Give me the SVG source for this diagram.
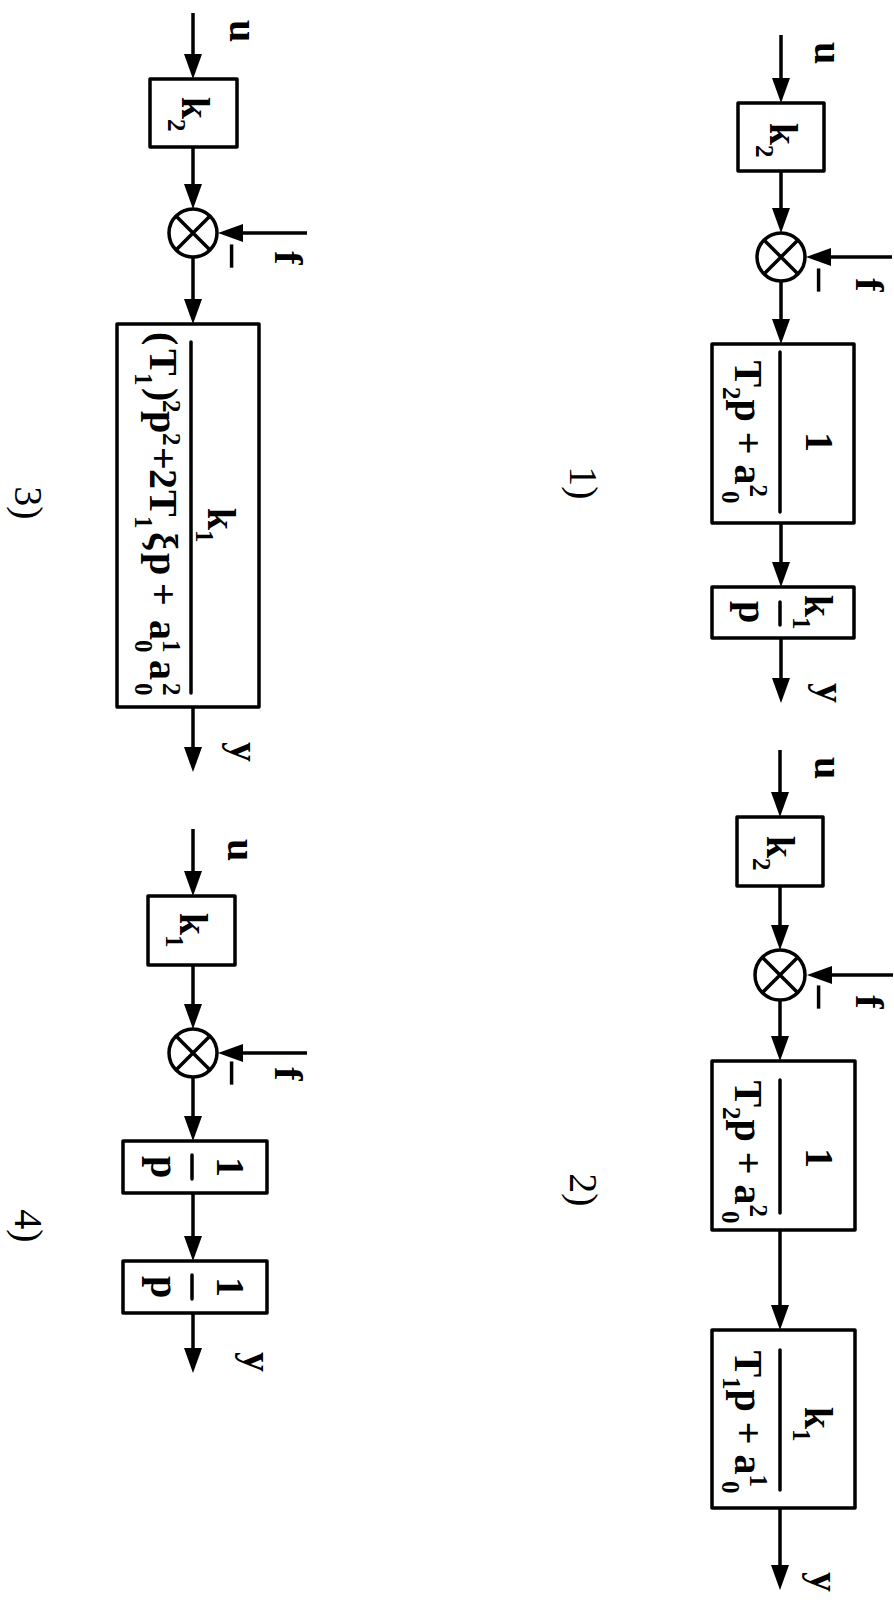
<svg xmlns="http://www.w3.org/2000/svg" width="894" height="1600" viewBox="0 0 894 1600">
<style>
.ln{stroke:#000;stroke-width:3.5;fill:none;marker-end:url(#ah)}
.bx{fill:#fff;stroke:#000;stroke-width:3.5;stroke-linejoin:round}
.sum{fill:#fff;stroke:#000;stroke-width:3.5}
.x{stroke:#000;stroke-width:3.5}
.fr{stroke:#000;stroke-width:3.5;stroke-linecap:round}
.t{font-family:"Liberation Serif","Times New Roman",serif;font-weight:bold;font-size:40px;fill:#000}
.s{font-size:25px}
.m{font-size:50px}
.lb{font-family:"Liberation Serif","Times New Roman",serif;font-size:40px;fill:#000}
</style>
<defs>
<marker id="ah" markerUnits="userSpaceOnUse" markerWidth="28" markerHeight="20" refX="15" refY="9" orient="auto"><path d="M0,0 L25,9 L0,18 z" fill="#000"/></marker>
</defs>
<rect width="894" height="1600" fill="#fff"/>
<g id="connectors">
<path class="ln" d="M781,35 V93"/>
<path class="ln" d="M781,171 V223"/>
<path class="ln" d="M892,257 H816"/>
<path class="ln" d="M781,281 V334"/>
<path class="ln" d="M781,523 V577"/>
<path class="ln" d="M781,638 V693"/>
<path class="ln" d="M780,750 V807"/>
<path class="ln" d="M780,886 V940"/>
<path class="ln" d="M893,975 H817"/>
<path class="ln" d="M780,1000 V1051"/>
<path class="ln" d="M780,1230 V1320"/>
<path class="ln" d="M780,1508 V1580"/>
<path class="ln" d="M193,13 V69"/>
<path class="ln" d="M193,147 V199"/>
<path class="ln" d="M307,233 H228"/>
<path class="ln" d="M193,257 V314"/>
<path class="ln" d="M193,707 V762"/>
<path class="ln" d="M193,829 V886"/>
<path class="ln" d="M193,965 V1019"/>
<path class="ln" d="M307,1053 H228"/>
<path class="ln" d="M193,1077 V1131"/>
<path class="ln" d="M193,1193 V1251"/>
<path class="ln" d="M193,1313 V1363"/>
</g>
<g id="d1-labels">
<text class="t" transform="translate(815,53) rotate(90)" text-anchor="middle">u</text>
<text class="t" transform="translate(856,285) rotate(90)" text-anchor="middle">f</text>
<text class="t m" transform="translate(802,280) rotate(90)" text-anchor="middle">−</text>
<text class="t" transform="translate(817,693) rotate(90)" text-anchor="middle">y</text>
<text class="lb" transform="translate(570,483) rotate(90)" text-anchor="middle">1)</text>
</g>
<g id="d1-k2">
<rect class="bx" x="738" y="103" width="86" height="68"/>
<text class="t" transform="translate(770,140) rotate(90)" text-anchor="middle">k<tspan class="s" dy="14">2</tspan></text>
</g>
<g id="d1-sum">
<circle class="sum" cx="781" cy="257" r="24"/>
<path class="x" d="M764,240 L798,274 M798,240 L764,274"/>
</g>
<g id="d1-w2">
<rect class="bx" x="712" y="344" width="142" height="179"/>
<line class="fr" x1="780" y1="352" x2="780" y2="512"/>
<text class="t" transform="translate(806,442) rotate(90)" text-anchor="middle">1</text>
<text class="t" transform="translate(735,432) rotate(90)" text-anchor="middle">T<tspan class="s" dy="12">2</tspan><tspan dy="-12">p + a</tspan><tspan class="s" dy="-15">2</tspan><tspan class="s" dx="-6" dy="28">0</tspan></text>
</g>
<g id="d1-w1">
<rect class="bx" x="712" y="587" width="142" height="51"/>
<line class="fr" x1="780" y1="602" x2="780" y2="625"/>
<text class="t" transform="translate(805,612) rotate(90)" text-anchor="middle">k<tspan class="s" dy="12">1</tspan></text>
<text class="t" transform="translate(739,612) rotate(90)" text-anchor="middle">p</text>
</g>
<g id="d2-labels">
<text class="t" transform="translate(815,768) rotate(90)" text-anchor="middle">u</text>
<text class="t" transform="translate(856,1002) rotate(90)" text-anchor="middle">f</text>
<text class="t m" transform="translate(802,997) rotate(90)" text-anchor="middle">−</text>
<text class="t" transform="translate(811,1582) rotate(90)" text-anchor="middle">y</text>
<text class="lb" transform="translate(570,1190) rotate(90)" text-anchor="middle">2)</text>
</g>
<g id="d2-k2">
<rect class="bx" x="737" y="817" width="86" height="69"/>
<text class="t" transform="translate(767,853) rotate(90)" text-anchor="middle">k<tspan class="s" dy="14">2</tspan></text>
</g>
<g id="d2-sum">
<circle class="sum" cx="780" cy="975" r="25"/>
<path class="x" d="M762,957 L798,993 M798,957 L762,993"/>
</g>
<g id="d2-w2">
<rect class="bx" x="712" y="1061" width="143" height="169"/>
<line class="fr" x1="780" y1="1080" x2="780" y2="1213"/>
<text class="t" transform="translate(806,1158) rotate(90)" text-anchor="middle">1</text>
<text class="t" transform="translate(735,1152) rotate(90)" text-anchor="middle">T<tspan class="s" dy="12">2</tspan><tspan dy="-12">p + a</tspan><tspan class="s" dy="-15">2</tspan><tspan class="s" dx="-6" dy="28">0</tspan></text>
</g>
<g id="d2-w1">
<rect class="bx" x="712" y="1330" width="143" height="178"/>
<line class="fr" x1="780" y1="1350" x2="780" y2="1490"/>
<text class="t" transform="translate(805,1424) rotate(90)" text-anchor="middle">k<tspan class="s" dy="12">1</tspan></text>
<text class="t" transform="translate(735,1422) rotate(90)" text-anchor="middle">T<tspan class="s" dy="12">1</tspan><tspan dy="-12">p + a</tspan><tspan class="s" dy="-15">1</tspan><tspan class="s" dx="-6" dy="28">0</tspan></text>
</g>
<g id="d3-labels">
<text class="t" transform="translate(230,31) rotate(90)" text-anchor="middle">u</text>
<text class="t" transform="translate(275,258) rotate(90)" text-anchor="middle">f</text>
<text class="t m" transform="translate(215,256) rotate(90)" text-anchor="middle">−</text>
<text class="t" transform="translate(231,752) rotate(90)" text-anchor="middle">y</text>
<text class="lb" transform="translate(15,503) rotate(90)" text-anchor="middle">3)</text>
</g>
<g id="d3-k2">
<rect class="bx" x="150" y="79" width="87" height="68"/>
<text class="t" transform="translate(182,114) rotate(90)" text-anchor="middle">k<tspan class="s" dy="14">2</tspan></text>
</g>
<g id="d3-sum">
<circle class="sum" cx="193" cy="233" r="24"/>
<path class="x" d="M176,216 L210,250 M210,216 L176,250"/>
</g>
<g id="d3-w">
<rect class="bx" x="117" y="324" width="142" height="383"/>
<line class="fr" x1="191" y1="342" x2="191" y2="693"/>
<text class="t" transform="translate(208,525) rotate(90)" text-anchor="middle">k<tspan class="s" dy="12">1</tspan></text>
<text class="t" transform="translate(150,0) rotate(90)"><tspan x="332" y="0">(</tspan><tspan x="349" y="0">T</tspan><tspan class="s" x="373" y="15">1</tspan><tspan x="388" y="0">)</tspan><tspan class="s" x="400" y="-13">2</tspan><tspan x="411" y="0">p</tspan><tspan class="s" x="433" y="-13">2</tspan><tspan x="447" y="0">+</tspan><tspan x="469" y="0">2</tspan><tspan x="490" y="0">T</tspan><tspan class="s" x="516" y="15">1</tspan><tspan x="532" y="0">ξ</tspan><tspan x="553" y="0">p</tspan><tspan x="583" y="0">+</tspan><tspan x="620" y="0">a</tspan><tspan class="s" x="640" y="-13">1</tspan><tspan class="s" x="640" y="15">0</tspan><tspan x="660" y="0">a</tspan><tspan class="s" x="683" y="-13">2</tspan><tspan class="s" x="683" y="15">0</tspan></text>
</g>
<g id="d4-labels">
<text class="t" transform="translate(228,850) rotate(90)" text-anchor="middle">u</text>
<text class="t" transform="translate(275,1074) rotate(90)" text-anchor="middle">f</text>
<text class="t m" transform="translate(215,1073) rotate(90)" text-anchor="middle">−</text>
<text class="t" transform="translate(244,1362) rotate(90)" text-anchor="middle">y</text>
<text class="lb" transform="translate(15,1226) rotate(90)" text-anchor="middle">4)</text>
</g>
<g id="d4-k1">
<rect class="bx" x="148" y="896" width="87" height="69"/>
<text class="t" transform="translate(180,930) rotate(90)" text-anchor="middle">k<tspan class="s" dy="14">1</tspan></text>
</g>
<g id="d4-sum">
<circle class="sum" cx="193" cy="1053" r="24"/>
<path class="x" d="M176,1036 L210,1070 M210,1036 L176,1070"/>
</g>
<g id="d4-w1">
<rect class="bx" x="123" y="1141" width="144" height="52"/>
<line class="fr" x1="192" y1="1155" x2="192" y2="1179"/>
<text class="t" transform="translate(217,1167) rotate(90)" text-anchor="middle">1</text>
<text class="t" transform="translate(151,1167) rotate(90)" text-anchor="middle">p</text>
</g>
<g id="d4-w2">
<rect class="bx" x="123" y="1261" width="144" height="52"/>
<line class="fr" x1="192" y1="1275" x2="192" y2="1299"/>
<text class="t" transform="translate(217,1287) rotate(90)" text-anchor="middle">1</text>
<text class="t" transform="translate(151,1287) rotate(90)" text-anchor="middle">p</text>
</g>
</svg>
